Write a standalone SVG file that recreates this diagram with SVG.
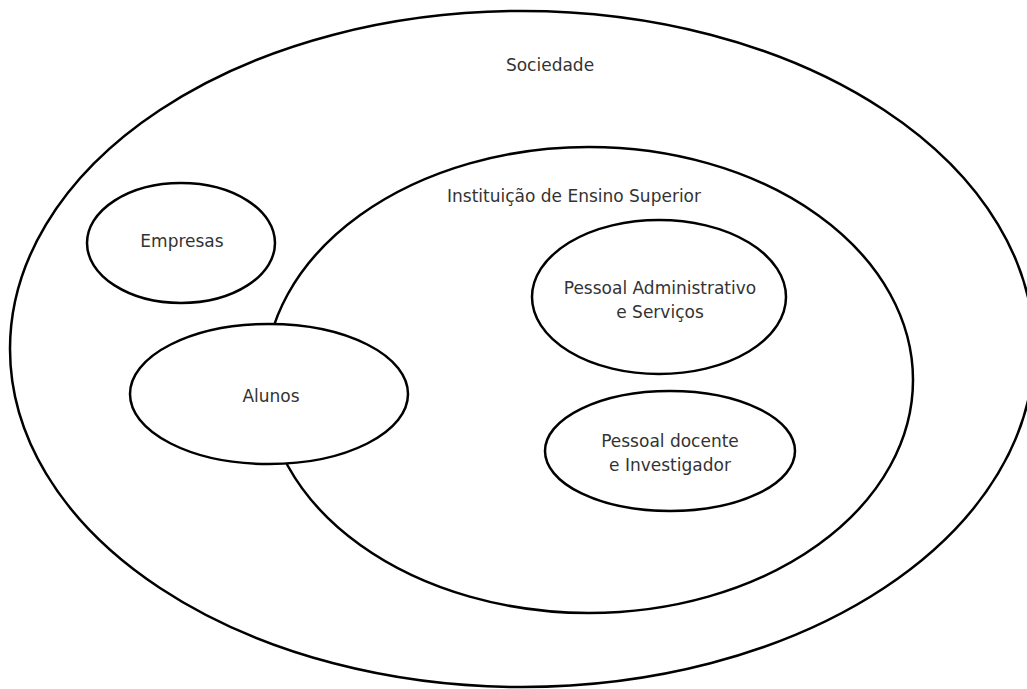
<svg xmlns="http://www.w3.org/2000/svg" width="1027" height="689" viewBox="0 0 1027 689">
<style>
.e{fill:#fff;stroke:#000;stroke-width:2.5}
.o{fill:none;stroke:#000;stroke-width:2.5}
.t{font-family:"DejaVu Sans",sans-serif;font-size:17px;fill:#333;text-anchor:middle}
</style>
<rect width="1027" height="689" fill="#fff"/>
<g id="sociedade">
<ellipse class="o" cx="522" cy="349" rx="512" ry="338"/>
<text class="t" x="550" y="71">Sociedade</text>
</g>
<g id="instituicao">
<ellipse class="o" cx="589" cy="380" rx="324" ry="233"/>
<text class="t" x="574" y="202">Instituição de Ensino Superior</text>
</g>
<g id="empresas">
<ellipse class="e" cx="181" cy="243" rx="94" ry="60"/>
<text class="t" x="182" y="247">Empresas</text>
</g>
<g id="alunos">
<ellipse class="e" cx="269" cy="394" rx="139" ry="70"/>
<text class="t" x="271" y="402">Alunos</text>
</g>
<g id="pessoal-admin">
<ellipse class="e" cx="659" cy="297" rx="127" ry="77"/>
<text class="t" x="660" y="294">Pessoal Administrativo</text>
<text class="t" x="660" y="318">e Serviços</text>
</g>
<g id="pessoal-docente">
<ellipse class="e" cx="670" cy="451" rx="125" ry="60"/>
<text class="t" x="670" y="447">Pessoal docente</text>
<text class="t" x="670" y="471">e Investigador</text>
</g>
<g id="connectors"></g>
</svg>
